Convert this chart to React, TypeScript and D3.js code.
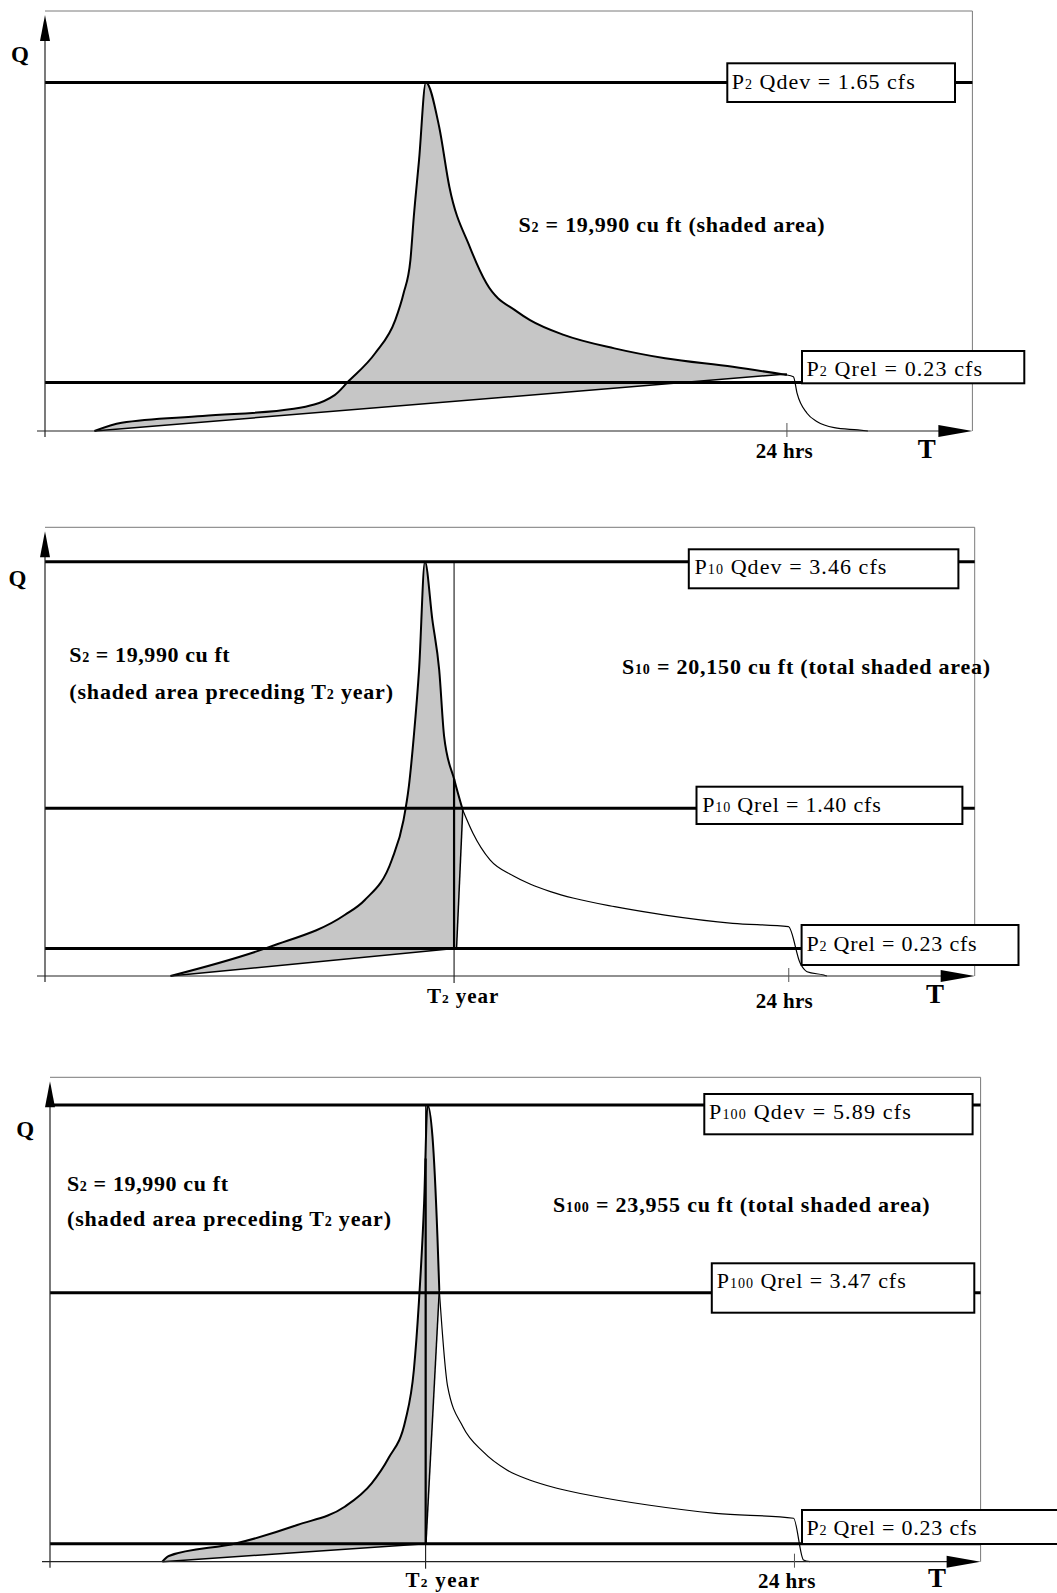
import React from 'react';
import * as d3 from 'd3';

type Pt = { t: number; q: number };
type Part = { s: string; sub?: boolean };

// ---- data (hours, cfs) ----
const hydrograph2yr: Pt[] = [
  { t: 1.6, q: 0 }, { t: 2.48, q: 0.039 }, { t: 5.1, q: 0.071 }, { t: 8.05, q: 0.105 },
  { t: 9.37, q: 0.17 }, { t: 9.8, q: 0.233 }, { t: 10.68, q: 0.368 }, { t: 11.33, q: 0.525 },
  { t: 11.6, q: 0.652 }, { t: 11.82, q: 0.809 }, { t: 11.93, q: 1.014 }, { t: 12.1, q: 1.283 },
  { t: 12.32, q: 1.65 }, { t: 12.75, q: 1.44 }, { t: 13.08, q: 1.156 }, { t: 13.74, q: 0.872 },
  { t: 14.28, q: 0.699 }, { t: 15.27, q: 0.565 }, { t: 15.69, q: 0.525 }, { t: 16.78, q: 0.455 },
  { t: 18.42, q: 0.391 }, { t: 20.06, q: 0.344 }, { t: 22.25, q: 0.304 }, { t: 24.0, q: 0.265 },
  { t: 24.21, q: 0.257 }, { t: 24.33, q: 0.178 }, { t: 24.65, q: 0.084 }, { t: 24.98, q: 0.044 },
  { t: 25.53, q: 0.016 }, { t: 26.29, q: 0.005 }, { t: 26.62, q: 0 },
];

const hydrograph10yr: Pt[] = [
  { t: 4.05, q: 0 }, { t: 7.27, q: 0.245 }, { t: 9.67, q: 0.509 }, { t: 10.32, q: 0.635 },
  { t: 11.19, q: 0.969 }, { t: 11.57, q: 1.303 }, { t: 11.74, q: 1.581 }, { t: 11.9, q: 1.999 },
  { t: 12.07, q: 2.556 }, { t: 12.26, q: 3.46 }, { t: 12.5, q: 2.973 }, { t: 12.72, q: 2.556 },
  { t: 12.88, q: 1.999 }, { t: 13.21, q: 1.637 }, { t: 13.48, q: 1.386 }, { t: 13.81, q: 1.192 },
  { t: 14.36, q: 0.969 }, { t: 15.12, q: 0.835 }, { t: 15.65, q: 0.768 }, { t: 16.31, q: 0.705 },
  { t: 17.07, q: 0.649 }, { t: 18.38, q: 0.579 }, { t: 20.01, q: 0.509 }, { t: 22.19, q: 0.44 },
  { t: 23.99, q: 0.412 }, { t: 24.37, q: 0.106 }, { t: 24.59, q: 0.036 }, { t: 25.13, q: 0.008 },
  { t: 25.23, q: 0 },
];

const hydrograph100yr: Pt[] = [
  { t: 3.62, q: 0 }, { t: 3.83, q: 0.074 }, { t: 6.01, q: 0.237 }, { t: 7.97, q: 0.473 },
  { t: 9.5, q: 0.709 }, { t: 10.37, q: 1.011 }, { t: 10.91, q: 1.334 }, { t: 11.46, q: 1.827 },
  { t: 11.73, q: 2.472 }, { t: 11.89, q: 3.332 }, { t: 12.06, q: 4.622 }, { t: 12.17, q: 5.89 },
  { t: 12.33, q: 5.481 }, { t: 12.49, q: 4.191 }, { t: 12.55, q: 3.504 }, { t: 12.82, q: 2.257 },
  { t: 13.31, q: 1.741 }, { t: 13.96, q: 1.419 }, { t: 14.73, q: 1.183 }, { t: 15.46, q: 1.054 },
  { t: 16.34, q: 0.947 }, { t: 17.65, q: 0.838 }, { t: 19.28, q: 0.731 }, { t: 21.46, q: 0.624 },
  { t: 23.97, q: 0.56 }, { t: 24.29, q: 0.022 }, { t: 24.5, q: 0 },
];

const hydrographs = [hydrograph2yr, hydrograph10yr, hydrograph100yr];
const qdevValues = [1.65, 3.46, 5.89];
const qrelValues = [[0.23], [1.4, 0.23], [3.47, 0.23]];
const t2YearHours: (number | null)[] = [null, 13.2, 12.11];
const shadeEndHours = [24.0, 13.48, 12.55];
const edgeBottomHours: (number | null)[] = [null, 13.28, 12.12];
const lowerLines: Pt[][] = [
  [{ t: 1.6, q: 0 }, { t: 24.0, q: 0.27 }],
  [{ t: 4.05, q: 0 }, { t: 13.2, q: 0.23 }],
  [{ t: 3.62, q: 0 }, { t: 12.11, q: 0.23 }],
];
const hourDomain = [0, 30];
const tickHour = 24;
const tickLabel = '24 hrs';
const t2Label: Part[] = [{ s: 'T' }, { s: '2', sub: true }, { s: ' year' }];

const qdevLabels: Part[][] = [
  [{ s: 'P' }, { s: '2', sub: true }, { s: ' Qdev = 1.65 cfs' }],
  [{ s: 'P' }, { s: '10', sub: true }, { s: ' Qdev = 3.46 cfs' }],
  [{ s: 'P' }, { s: '100', sub: true }, { s: ' Qdev = 5.89 cfs' }],
];
const qrelLabels: Part[][][] = [
  [[{ s: 'P' }, { s: '2', sub: true }, { s: ' Qrel = 0.23  cfs' }]],
  [
    [{ s: 'P' }, { s: '10', sub: true }, { s: ' Qrel = 1.40 cfs' }],
    [{ s: 'P' }, { s: '2', sub: true }, { s: ' Qrel = 0.23 cfs' }],
  ],
  [
    [{ s: 'P' }, { s: '100', sub: true }, { s: ' Qrel = 3.47 cfs' }],
    [{ s: 'P' }, { s: '2', sub: true }, { s: ' Qrel = 0.23 cfs' }],
  ],
];
const storageLabels: Part[][][] = [
  [[{ s: 'S' }, { s: '2', sub: true }, { s: ' = 19,990 cu ft (shaded area)' }]],
  [
    [{ s: 'S' }, { s: '2', sub: true }, { s: ' = 19,990 cu ft' }],
    [{ s: '(shaded area preceding T' }, { s: '2', sub: true }, { s: ' year)' }],
    [{ s: 'S' }, { s: '10', sub: true }, { s: ' = 20,150 cu ft (total shaded area)' }],
  ],
  [
    [{ s: 'S' }, { s: '2', sub: true }, { s: ' = 19,990 cu ft' }],
    [{ s: '(shaded area preceding T' }, { s: '2', sub: true }, { s: ' year)' }],
    [{ s: 'S' }, { s: '100', sub: true }, { s: ' = 23,955 cu ft (total shaded area)' }],
  ],
];

// ---- layout (pixels) ----
const layouts = [
  {
    left: 45, right: 972.4, top: 11, base: 431, qTop: 1.988, axisStart: 37,
    q: [11, 61.7], T: [917.8, 458], tick: [755.7, 458, 57], t2: null as null | number[],
    storage: [[518.6, 231.7, 306]],
    qdevBox: [727.3, 63.3, 227.7, 38.7, 731.7, 89, 183],
    qrelBoxes: [[802, 351, 222.3, 32.3, 806.4, 375.5, 175.6]],
  },
  {
    left: 45, right: 974.7, top: 527.3, base: 976, qTop: 3.747, axisStart: 37,
    q: [8.4, 586], T: [926, 1003], tick: [755.7, 1008, 57], t2: [427, 1003, 71.3],
    storage: [[69.3, 661.7, 160.4], [69.3, 698.5, 323.7], [621.9, 674, 368.2]],
    qdevBox: [688.8, 549.3, 269.6, 39, 694.5, 573.5, 191.9],
    qrelBoxes: [
      [696.5, 786.7, 265.9, 37.3, 702.3, 811.5, 178.4],
      [801.6, 925, 216.9, 40, 806.4, 950.5, 170.2],
    ],
  },
  {
    left: 50, right: 980.6, top: 1077.3, base: 1561.7, qTop: 6.247, axisStart: 42,
    q: [16.2, 1137], T: [928, 1587], tick: [758, 1588, 57.5], t2: [405.4, 1587, 73.6],
    storage: [[66.9, 1190.7, 161.1], [67, 1226, 324], [553, 1211.7, 376.7]],
    qdevBox: [704.3, 1094, 268.3, 40.3, 709, 1119, 201.7],
    qrelBoxes: [
      [711.8, 1263.3, 262.5, 49.4, 716.8, 1288, 188.9],
      [802, 1510, 270, 34, 806.4, 1534.5, 170.2],
    ],
  },
];

const FONT = '"Liberation Serif", "Times New Roman", Times, serif';
const SHADE = '#c6c6c6';

function Label({ parts, x, y, w, size, bold }: { parts: Part[]; x: number; y: number; w?: number; size: number; bold?: boolean }) {
  return (
    <text
      x={x}
      y={y}
      fontFamily={FONT}
      fontSize={size}
      fontWeight={bold ? 'bold' : 'normal'}
      textLength={w}
      lengthAdjust={w ? 'spacing' : undefined}
      fill="#000"
    >
      {parts.map((p, k) => (
        <tspan key={k} fontSize={p.sub ? size * 0.64 : size}>{p.s}</tspan>
      ))}
    </text>
  );
}

function valueAt(curve: Pt[], t: number): number {
  for (let i = 0; i < curve.length - 1; i++) {
    const a = curve[i], b = curve[i + 1];
    if (t >= a.t && t <= b.t) return a.q + ((b.q - a.q) * (t - a.t)) / (b.t - a.t);
  }
  return 0;
}

function Panel({ i }: { i: number }) {
  const L = layouts[i];
  const curve = hydrographs[i];
  const x = d3.scaleLinear().domain(hourDomain).range([L.left, L.right]);
  const y = d3.scaleLinear().domain([0, L.qTop]).range([L.base, L.top]);
  const line = d3.line<Pt>().x((d) => x(d.t)).y((d) => y(d.q));
  const smooth = d3.line<Pt>().x((d) => x(d.t)).y((d) => y(d.q)).curve(d3.curveMonotoneX);

  const endT = shadeEndHours[i];
  const top = curve.filter((d) => d.t <= endT);
  const restStart = curve.findIndex((d) => d.t > endT);
  const rest = curve.slice(Math.max(0, restStart - 1));
  const lower = lowerLines[i];
  const eb = edgeBottomHours[i];
  const edge: Pt[] = eb != null ? [top[top.length - 1], { t: eb, q: lower[1].q }] : [];
  const closing: Pt[] = [...(eb != null ? [{ t: eb, q: lower[1].q }] : []), lower[1], lower[0]];
  const polyD =
    (smooth(top) || '') + closing.map((p) => `L${x(p.t)},${y(p.q)}`).join('') + 'Z';
  const t2 = t2YearHours[i];

  const tipY = L.top + 4;
  const ax = L.left;
  const qrels = qrelValues[i];

  return (
    <g>
      {/* frame */}
      <line x1={L.left} x2={L.right} y1={L.top} y2={L.top} stroke="#7a7a7a" strokeWidth={1} />
      <line x1={L.right} x2={L.right} y1={L.top} y2={L.base} stroke="#7a7a7a" strokeWidth={1} />

      {/* shaded storage */}
      <path d={polyD} fill={SHADE} stroke="none" />

      {/* level lines */}
      <line x1={L.left} x2={L.right} y1={y(qdevValues[i])} y2={y(qdevValues[i])} stroke="#000" strokeWidth={3} />
      {qrels.map((v, k) => (
        <line key={k} x1={L.left} x2={L.right} y1={y(v)} y2={y(v)} stroke="#000" strokeWidth={3} />
      ))}

      {/* T2 year vertical */}
      {t2 != null && (
        <g>
          <line x1={x(t2)} x2={x(t2)} y1={y(qdevValues[i])} y2={L.base + 7} stroke="#000" strokeWidth={1} />
          <line x1={x(t2)} x2={x(t2)} y1={y(lower[1].q)} y2={y(valueAt(curve, t2))} stroke="#000" strokeWidth={2.2} />
        </g>
      )}

      {/* lower line and edge */}
      <path d={line(lower) || ''} fill="none" stroke="#000" strokeWidth={1.5} />
      {edge.length > 0 && <path d={line(edge) || ''} fill="none" stroke="#000" strokeWidth={1.5} />}

      {/* hydrograph */}
      <path d={smooth(top) || ''} fill="none" stroke="#000" strokeWidth={2} strokeLinejoin="round" />
      <path d={smooth(rest) || ''} fill="none" stroke="#000" strokeWidth={1.2} strokeLinejoin="round" />

      {/* axes */}
      <line x1={ax} x2={ax} y1={tipY + 10} y2={L.base + 6} stroke="#222" strokeWidth={1.2} />
      <path d={`M${ax},${tipY} L${ax - 5},${tipY + 26} L${ax + 5},${tipY + 26} Z`} fill="#000" />
      <line x1={L.axisStart} x2={L.right - 10} y1={L.base} y2={L.base} stroke="#222" strokeWidth={1.2} />
      <path d={`M${L.right},${L.base} L${L.right - 34},${L.base - 6} L${L.right - 34},${L.base + 6} Z`} fill="#000" />
      <line x1={x(tickHour)} x2={x(tickHour)} y1={L.base - 8} y2={L.base + 6} stroke="#555" strokeWidth={1} />

      {/* axis labels */}
      <text x={L.q[0]} y={L.q[1]} fontFamily={FONT} fontSize={23} fontWeight="bold">Q</text>
      <text x={L.T[0]} y={L.T[1]} fontFamily={FONT} fontSize={27} fontWeight="bold">T</text>
      <Label parts={[{ s: tickLabel }]} x={L.tick[0]} y={L.tick[1]} w={L.tick[2]} size={21} bold />
      {L.t2 && <Label parts={t2Label} x={L.t2[0]} y={L.t2[1]} w={L.t2[2]} size={21} bold />}

      {/* storage labels */}
      {storageLabels[i].map((parts, k) => (
        <Label key={k} parts={parts} x={L.storage[k][0]} y={L.storage[k][1]} w={L.storage[k][2]} size={22} bold />
      ))}

      {/* boxes */}
      <rect x={L.qdevBox[0]} y={L.qdevBox[1]} width={L.qdevBox[2]} height={L.qdevBox[3]} fill="#fff" stroke="#000" strokeWidth={2} />
      <Label parts={qdevLabels[i]} x={L.qdevBox[4]} y={L.qdevBox[5]} w={L.qdevBox[6]} size={22} />
      {L.qrelBoxes.map((b, k) => (
        <g key={k}>
          <rect x={b[0]} y={b[1]} width={b[2]} height={b[3]} fill="#fff" stroke="#000" strokeWidth={2} />
          <Label parts={qrelLabels[i][k]} x={b[4]} y={b[5]} w={b[6]} size={22} />
        </g>
      ))}
    </g>
  );
}

export default function App() {
  return (
    <svg
      width={1057}
      height={1593}
      viewBox="0 0 1057 1593"
      style={{ position: 'absolute', left: 0, top: 0, display: 'block', background: '#fff' }}
    >
      <rect x={0} y={0} width={1057} height={1593} fill="#fff" />
      {layouts.map((_, i) => (
        <Panel key={i} i={i} />
      ))}
    </svg>
  );
}
